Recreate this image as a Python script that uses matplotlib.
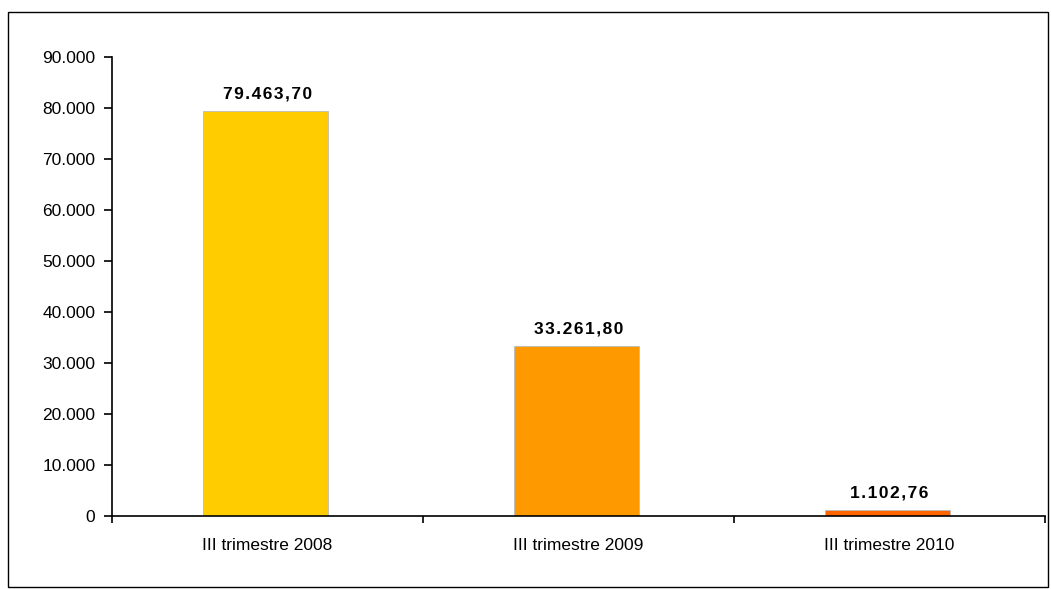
import matplotlib
matplotlib.use("Agg")
import matplotlib.pyplot as plt
import matplotlib.patches as patches
from matplotlib.ticker import FixedLocator, NullFormatter

plt.rcParams["font.family"] = ["Liberation Sans", "DejaVu Sans"]

categories = ["III trimestre 2008", "III trimestre 2009", "III trimestre 2010"]
values = [79463.70, 33261.80, 1102.76]
value_labels = ["79.463,70", "33.261,80", "1.102,76"]
colors = ["#FFCC00", "#FF9900", "#FF6600"]
y_ticks = [0, 10000, 20000, 30000, 40000, 50000, 60000, 70000, 80000, 90000]
y_tick_labels = ["0", "10.000", "20.000", "30.000", "40.000", "50.000",
                 "60.000", "70.000", "80.000", "90.000"]

W, H = 1051, 589
fig = plt.figure(figsize=(W / 100, H / 100), dpi=100)
ax = fig.add_axes([112 / W, 1 - 516 / H, (1045 - 112) / W, (516 - 57) / H])

x = list(range(len(categories)))
ax.bar([xi - 0.007 for xi in x], values, width=0.4, color=colors,
       edgecolor="#BBBBBB", linewidth=0.6, zorder=2)

# excel-style letter spacing on the data labels
for xi, v, lab in zip(x, values, value_labels):
    ax.annotate("\u200a".join(lab), (xi, v), xytext=(0, 7), textcoords="offset points",
                ha="center", va="bottom", fontsize=12.5, fontweight="bold")

ax.set_xlim(-0.5, 2.5)
ax.set_ylim(0, 90000)
ax.set_yticks(y_ticks)
ax.set_yticklabels(y_tick_labels, fontsize=12.5)
ax.set_xticks(x)
ax.set_xticklabels(categories, fontsize=12.5)
ax.tick_params(axis="x", which="major", length=0, pad=16)
ax.xaxis.set_minor_locator(FixedLocator([-0.5, 0.5, 1.5, 2.5]))
ax.xaxis.set_minor_formatter(NullFormatter())
ax.tick_params(axis="x", which="minor", length=5, width=1.2, direction="out")
ax.tick_params(axis="y", length=6, width=1.2, direction="out", pad=6)

for s in ["top", "right"]:
    ax.spines[s].set_visible(False)
ax.spines["left"].set_linewidth(1.2)
ax.spines["bottom"].set_linewidth(1.2)

fig.patches.append(patches.Rectangle((8 / W, 1 - 587 / H), (1048 - 8) / W, (587 - 12) / H,
                                     transform=fig.transFigure, fill=False,
                                     edgecolor="black", linewidth=1))

fig.savefig("out.png", dpi=100)
